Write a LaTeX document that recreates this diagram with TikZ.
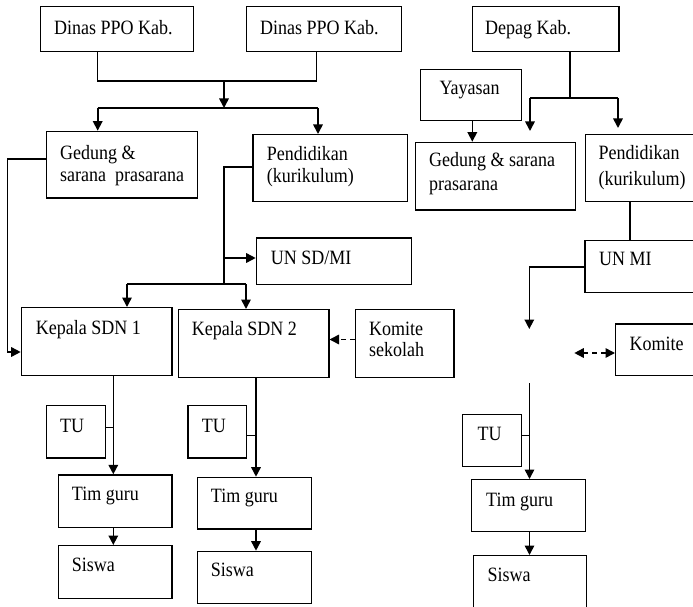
\documentclass[tikz,border=0pt]{standalone}
\usepackage{fontspec}
\usepackage{graphicx}
\setmainfont{Liberation Serif}
\usetikzlibrary{arrows.meta}

% a framed box given by its corners (x1,y1) and (x2,y2)
\newcommand\orgbox[5]{%
  \node[box, minimum width={(#4-#2)*1pt}, minimum height={(#5-#3)*1pt}] (#1) at (#2,#3) {};}
% one line of text, placed by its baseline start; the face is set a little tall
\newcommand\orgtext[4]{\node[txt] (#1) at (#2,#3) {\scalebox{1}[1.13]{#4}};}

\begin{document}
\begin{tikzpicture}[x=1pt, y=-1pt,
  box/.style={draw, rectangle, line width=1.2pt, inner sep=0pt, anchor=north west},
  txt/.style={inner sep=0pt, anchor=base west, font=\fontsize{18}{21}\selectfont},
  link/.style={line width=1.2pt},
  tulink/.style={line width=1pt},
  arr/.style={line width=1.6pt, -{Triangle[length=9.5pt,width=9.5pt]}},
  darr/.style={line width=1.6pt, dash pattern=on 5pt off 4pt, -{Triangle[length=9.5pt,width=9.5pt]}},
  ddarr/.style={line width=1.6pt, dash pattern=on 5pt off 4pt,
    {Triangle[length=9.5pt,width=9.5pt]}-{Triangle[length=9.5pt,width=9.5pt]}}]

\useasboundingbox (0,0) rectangle (693,607);
\clip (0,0) rectangle (693,607);

% ---------- boxes ----------
\orgbox{dinasA}{40}{6}{192.7}{51}
\orgbox{dinasB}{245.7}{6}{400.7}{51}
\orgbox{depag}{471.7}{6}{618.3}{51}
\orgbox{gedungA}{46}{130.7}{196.7}{197.3}
\orgbox{pendA}{252.3}{134}{406.7}{201}
\orgbox{yayasan}{420}{69}{521}{120}
\orgbox{gedungB}{415}{141.7}{575}{209.3}
\orgbox{pendB}{585}{134}{705}{201}
\orgbox{unsd}{255.7}{237.3}{410.7}{283.7}
\orgbox{unmi}{584.3}{240}{705}{291.7}
\orgbox{kepA}{20.7}{307}{171.3}{375}
\orgbox{kepB}{177.7}{309}{328.3}{377}
\orgbox{komA}{355}{308.5}{453.3}{376.7}
\orgbox{komB}{615}{323.3}{705}{375}
\orgbox{tuA}{46}{405}{105}{457.3}
\orgbox{timA}{57.7}{474.3}{171.3}{526.7}
\orgbox{siswaA}{57.7}{545}{171.3}{597.7}
\orgbox{tuB}{187.3}{405}{246}{457.3}
\orgbox{timB}{196.7}{476.7}{310.7}{528.3}
\orgbox{siswaB}{196.7}{550.7}{310.7}{602.7}
\orgbox{tuC}{462}{414}{520.7}{466}
\orgbox{timC}{470.7}{479}{585}{531}
\orgbox{siswaC}{472.7}{555}{586}{625}

% ---------- texts ----------
\orgtext{dinasA-t}{54}{34.5}{Dinas PPO Kab.}
\orgtext{dinasB-t}{260}{34.5}{Dinas PPO Kab.}
\orgtext{depag-t}{485}{34.7}{Depag Kab.}
\orgtext{yayasan-t}{439.3}{95}{Yayasan}
\orgtext{gedungA-t1}{60}{159.3}{Gedung \&}
\orgtext{gedungA-t2}{60}{181.7}{sarana\ \ prasarana}
\orgtext{pendA-t1}{266.7}{160.3}{Pendidikan}
\orgtext{pendA-t2}{266.7}{182}{(kurikulum)}
\orgtext{gedungB-t1}{429}{166}{Gedung \& sarana}
\orgtext{gedungB-t2}{429}{190}{prasarana}
\orgtext{pendB-t1}{598.3}{159}{Pendidikan}
\orgtext{pendB-t2}{598.3}{185}{(kurikulum)}
\orgtext{unsd-t}{270.7}{264}{UN SD/MI}
\orgtext{unmi-t}{599}{265.7}{UN MI}
\orgtext{kepA-t}{35.7}{334}{Kepala SDN 1}
\orgtext{kepB-t}{191.7}{335.7}{Kepala SDN 2}
\orgtext{komA-t1}{369}{335}{Komite}
\orgtext{komA-t2}{369}{356.7}{sekolah}
\orgtext{komB-t}{629.3}{350}{Komite}
\orgtext{tuA-t}{60}{432.7}{TU}
\orgtext{timA-t}{71.7}{500.7}{Tim guru}
\orgtext{siswaA-t}{71.7}{571.7}{Siswa}
\orgtext{tuB-t}{201.7}{432.7}{TU}
\orgtext{timB-t}{210.7}{502.7}{Tim guru}
\orgtext{siswaB-t}{210.7}{576.7}{Siswa}
\orgtext{tuC-t}{477.3}{440}{TU}
\orgtext{timC-t}{486}{506}{Tim guru}
\orgtext{siswaC-t}{487.3}{581.7}{Siswa}

% ---------- junction points ----------
\coordinate (jA) at (97.7,81);
\coordinate (jB) at (316.7,81);
\coordinate (jM) at (224,81);
\coordinate (sM) at (224,108);
\coordinate (sL) at (97.7,108);
\coordinate (sR) at (318,108);
\coordinate (gL) at (7.3,159);
\coordinate (kL) at (20.7,352);
\coordinate (pL) at (224,167);
\coordinate (pU) at (224,258);
\coordinate (pS) at (224,284);
\coordinate (kAx) at (127,284);
\coordinate (kBx) at (246,284);
\coordinate (kmA) at (355,339.5);
\coordinate (cA) at (113.3,0);
\coordinate (tA) at (113.3,427.7);
\coordinate (cB) at (256,0);
\coordinate (tB) at (256,435.3);
\coordinate (dD) at (570,98);
\coordinate (dL) at (530,98);
\coordinate (dR) at (618,98);
\coordinate (dLe) at (530,131);
\coordinate (dRe) at (618,128);
\coordinate (yX) at (472.3,0);
\coordinate (pbX) at (630,0);
\coordinate (uL) at (529.3,266.7);
\coordinate (uE) at (529.3,329);
\coordinate (kmB) at (574.3,353);
\coordinate (mC) at (529.5,383);
\coordinate (cC) at (529.5,0);
\coordinate (tC) at (529.5,435.7);

% ---------- left side: Dinas PPO ----------
\draw[link] (dinasA.south -| jA) -- (jA) -- (jB) -- (dinasB.south -| jB);
\draw[arr] (jM) -- (sM);
\draw[link] (sL) -- (sR);
\draw[arr] (sL) -- (gedungA.north -| sL);
\draw[arr] (sR) -- (pendA.north -| sR);

\draw[arr] (gedungA.west |- gL) -- (gL) |- (kepA.west |- kL);

\draw[link] (pendA.west |- pL) -- (pL) -- (pS);
\draw[arr] (pU) -- (unsd.west |- pU);
\draw[link] (kAx) -- (kBx);
\draw[arr] (kAx) -- (kepA.north -| kAx);
\draw[arr] (kBx) -- (kepB.north -| kBx);

\draw[darr] (kmA) -- (kepB.east |- kmA);

% school 1
\draw[arr] (kepA.south -| cA) -- (timA.north -| cA);
\draw[tulink] (tuA.east |- tA) -- (tA);
\draw[arr] (timA.south -| cA) -- (siswaA.north -| cA);

% school 2
\draw[arr] (kepB.south -| cB) -- (timB.north -| cB);
\draw[tulink] (tuB.east |- tB) -- (tB);
\draw[arr] (timB.south -| cB) -- (siswaB.north -| cB);

% ---------- right side: Depag ----------
\draw[link] (depag.south -| dD) -- (dD);
\draw[link] (dL) -- (dR);
\draw[arr] (dL) -- (dLe);
\draw[arr] (dR) -- (dRe);
\draw[arr] (yayasan.south -| yX) -- (gedungB.north -| yX);
\draw[link] (pendB.south -| pbX) -- (unmi.north -| pbX);
\draw[arr] (unmi.west |- uL) -- (uL) -- (uE);
\draw[ddarr] (kmB) -- (komB.west |- kmB);

% madrasah
\draw[arr] (mC) -- (timC.north -| cC);
\draw[tulink] (tuC.east |- tC) -- (tC);
\draw[arr] (timC.south -| cC) -- (siswaC.north -| cC);

\end{tikzpicture}
\end{document}
